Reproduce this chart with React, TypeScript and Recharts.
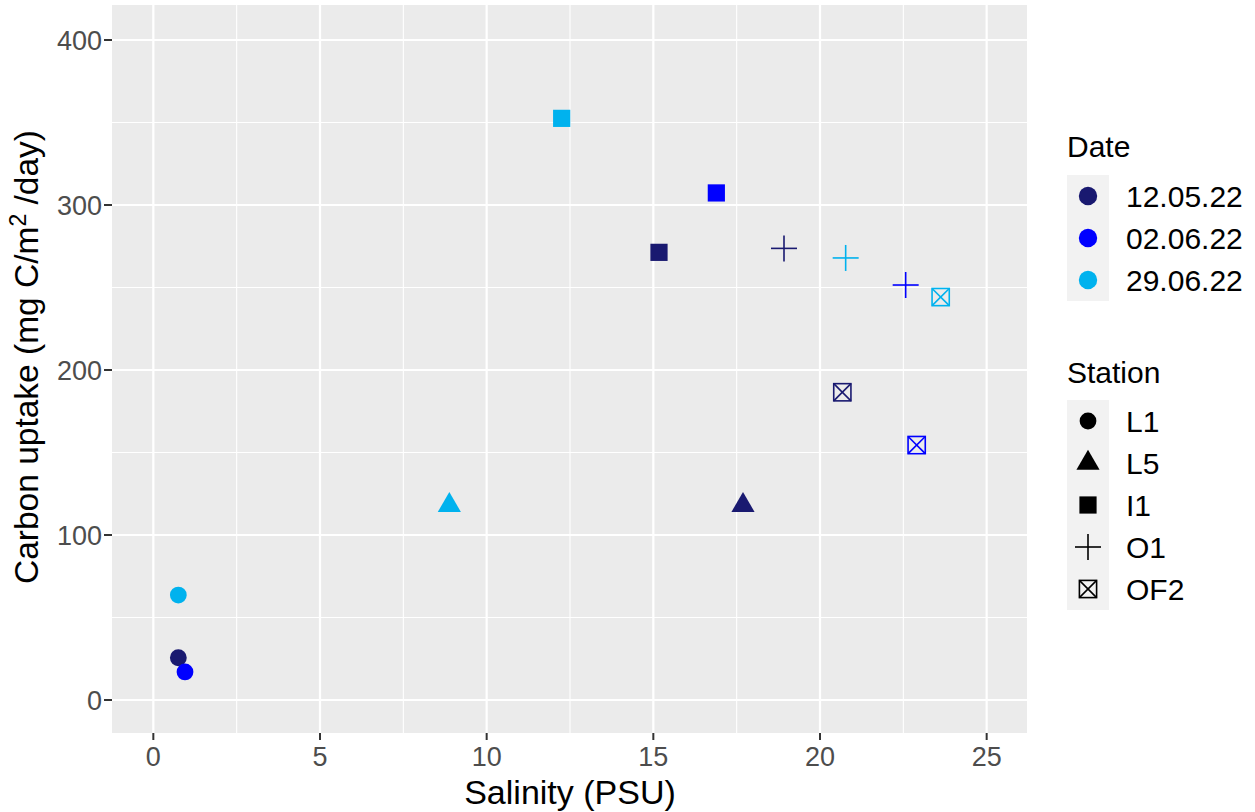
import React from 'react';
import { ScatterChart, Scatter, XAxis, YAxis, CartesianGrid } from 'recharts';

const DATES = ['12.05.22', '02.06.22', '29.06.22'];
const DATE_COLORS = ['#191970', '#0000FF', '#00B2EE'];
const STATIONS = ['L1', 'L5', 'I1', 'O1', 'OF2'];

// one entry per sample
const sampleDate = ['12.05.22', '02.06.22', '29.06.22', '29.06.22', '12.05.22', '29.06.22', '02.06.22', '12.05.22', '12.05.22', '29.06.22', '02.06.22', '29.06.22', '12.05.22', '02.06.22'];
const sampleStation = ['L1', 'L1', 'L1', 'L5', 'L5', 'I1', 'I1', 'I1', 'O1', 'O1', 'O1', 'OF2', 'OF2', 'OF2'];
const salinity = [0.75, 0.95, 0.75, 8.88, 17.69, 12.25, 16.89, 15.17, 18.92, 20.77, 22.57, 23.62, 20.67, 22.9];
const uptake = [25.6, 17, 63.6, 118, 118, 352.5, 307.3, 271.3, 273.7, 267.9, 251.5, 244.2, 186.5, 154.5];

const X_TICKS = [0, 5, 10, 15, 20, 25];
const Y_TICKS = [0, 100, 200, 300, 400];
const X_MINOR = [2.5, 7.5, 12.5, 17.5, 22.5];
const Y_MINOR = [50, 150, 250, 350];

const samples = salinity.map((s, i) => ({
  salinity: s,
  uptake: uptake[i],
  date: sampleDate[i],
  station: sampleStation[i],
}));

const FONT = '"Liberation Sans", Arial, Helvetica, sans-serif';

function Marker({ cx, cy, station, color }: { cx: number; cy: number; station: string; color: string }) {
  switch (station) {
    case 'L1':
      return <circle cx={cx} cy={cy} r={8.4} fill={color} />;
    case 'L5': {
      const a = 8.6;
      const pts = `${cx},${cy - 1.555 * a} ${cx + 1.347 * a},${cy + 0.778 * a} ${cx - 1.347 * a},${cy + 0.778 * a}`;
      return <polygon points={pts} fill={color} />;
    }
    case 'I1':
      return <rect x={cx - 8.6} y={cy - 8.6} width={17.2} height={17.2} fill={color} />;
    case 'O1':
      return (
        <g stroke={color} strokeWidth={1.6}>
          <line x1={cx - 13} y1={cy} x2={cx + 13} y2={cy} />
          <line x1={cx} y1={cy - 13} x2={cx} y2={cy + 13} />
        </g>
      );
    default: {
      const h = 8.6;
      return (
        <g stroke={color} strokeWidth={1.6} fill="none">
          <rect x={cx - h} y={cy - h} width={2 * h} height={2 * h} />
          <line x1={cx - h} y1={cy - h} x2={cx + h} y2={cy + h} />
          <line x1={cx - h} y1={cy + h} x2={cx + h} y2={cy - h} />
        </g>
      );
    }
  }
}

function Overlay() {
  const keyX = 1088;
  return (
    <svg width={1255} height={812} style={{ position: 'absolute', left: 0, top: 0, pointerEvents: 'none' }} fontFamily={FONT}>
      {/* axis titles */}
      <text x={570} y={804} textAnchor="middle" fontSize={34} fill="#000">Salinity (PSU)</text>
      <text transform="translate(38,357) rotate(-90)" textAnchor="middle" fontSize={33.5} fill="#000">
        Carbon uptake (mg C/m<tspan dy={-12} fontSize={23}>2</tspan>
        <tspan dy={12}> /day)</tspan>
      </text>

      {/* colour legend */}
      <text x={1067} y={157} fontSize={30} fill="#000">Date</text>
      <rect x={1067} y={175} width={42} height={126} fill="#F2F2F2" />
      {DATES.map((d, i) => (
        <g key={d}>
          <circle cx={keyX} cy={196 + i * 42} r={9.2} fill={DATE_COLORS[i]} />
          <text x={1126} y={196 + i * 42 + 10.8} fontSize={30} fill="#000">{d}</text>
        </g>
      ))}

      {/* shape legend */}
      <text x={1067} y={383} fontSize={30} fill="#000">Station</text>
      <rect x={1067} y={400} width={42} height={210} fill="#F2F2F2" />
      {STATIONS.map((s, i) => (
        <g key={s}>
          <Marker cx={keyX} cy={421 + i * 42} station={s} color="#000" />
          <text x={1126} y={421 + i * 42 + 10.8} fontSize={30} fill="#000">{s}</text>
        </g>
      ))}
    </svg>
  );
}

export default function App() {
  return (
    <div style={{ position: 'absolute', left: 0, top: 0, width: 1255, height: 812, background: '#fff' }}>
      <ScatterChart width={1255} height={812} margin={{ top: 5, right: 228, bottom: 0, left: 0 }}>
        <CartesianGrid
          fill="#EBEBEB"
          stroke="#FFFFFF"
          strokeWidth={1.1}
          verticalValues={X_MINOR}
          horizontalValues={Y_MINOR}
        />
        <CartesianGrid
          stroke="#FFFFFF"
          strokeWidth={2.2}
          verticalValues={X_TICKS}
          horizontalValues={Y_TICKS}
        />
        <XAxis
          type="number"
          dataKey="salinity"
          domain={[-1.24, 26.21]}
          ticks={X_TICKS}
          allowDataOverflow
          height={79}
          axisLine={false}
          tickSize={7}
          tickMargin={7}
          tickLine={{ stroke: '#333333', strokeWidth: 2 }}
          tick={{ fill: '#4D4D4D', fontSize: 27, fontFamily: FONT }}
        />
        <YAxis
          type="number"
          dataKey="uptake"
          domain={[-20, 421.2]}
          ticks={Y_TICKS}
          allowDataOverflow
          width={112}
          axisLine={false}
          tickSize={8}
          tickMargin={2}
          tickLine={{ stroke: '#333333', strokeWidth: 2 }}
          tick={{ fill: '#4D4D4D', fontSize: 27, fontFamily: FONT }}
        />
        {DATES.map((d, i) => (
          <Scatter
            key={d}
            name={d}
            data={samples.filter((p) => p.date === d)}
            fill={DATE_COLORS[i]}
            isAnimationActive={false}
            shape={(props: any) => (
              <Marker cx={props.cx} cy={props.cy} station={props.payload.station} color={DATE_COLORS[i]} />
            )}
          />
        ))}
      </ScatterChart>
      <Overlay />
    </div>
  );
}
